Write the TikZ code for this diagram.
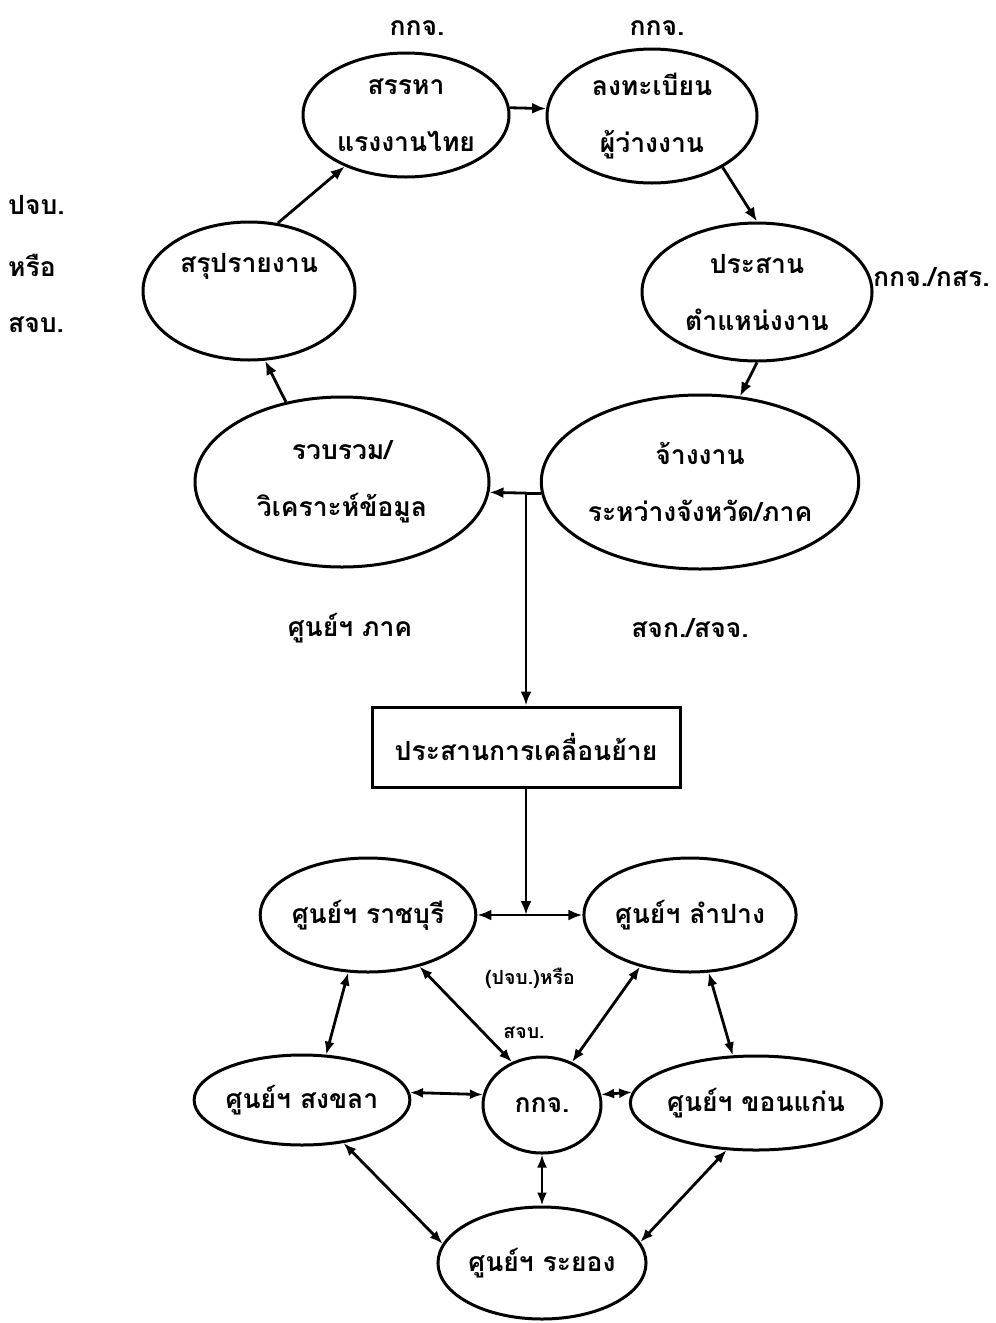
\documentclass[tikz,border=0pt]{standalone}
\usepackage{fontspec}
\newfontfamily\thai[Script=Thai]{Loma}
\usetikzlibrary{shapes.geometric,arrows.meta}
\begin{document}
\begin{tikzpicture}[x=1pt,y=-1pt,
  every node/.style={font=\thai\bfseries\fontsize{26.5}{57}\selectfont},
  ell/.style={draw, ellipse, line width=3pt, inner sep=0pt, align=center},
  boxst/.style={draw, rectangle, line width=3pt, inner sep=0pt},
  lbl/.style={inner sep=0pt},
  small/.style={inner sep=0pt, font=\thai\bfseries\fontsize{19.5}{22}\selectfont},
  con/.style={line width=2.8pt, -{Latex[length=14pt,width=11pt]}},
  dcon/.style={line width=2.8pt, {Latex[length=13pt,width=10pt]}-{Latex[length=13pt,width=10pt]}},
  plain/.style={line width=2.8pt}
]
\useasboundingbox[fill=white] (0,0) rectangle (996,1323);

% upper cycle
\node[ell, minimum width=206pt, minimum height=124pt] (A) at (406,115) {สรรหา\\แรงงานไทย};
\node[ell, minimum width=210pt, minimum height=134pt] (B) at (652,116) {ลงทะเบียน\\ผู้ว่างงาน};
\node[ell, minimum width=212pt, minimum height=138pt] (C) at (249,291) {สรุปรายงาน\\\mbox{}};
\node[ell, minimum width=230pt, minimum height=138pt] (D) at (757,292) {ประสาน\\ตำแหน่งงาน};
\node[ell, minimum width=294pt, minimum height=170pt] (E) at (342,482) {รวบรวม/\\วิเคราะห์ข้อมูล};
\node[ell, minimum width=272pt, minimum height=174pt] (F) at (700,482) {จ้างงาน\\ระหว่างจังหวัด/ภาค};
\node[boxst, minimum width=308pt, minimum height=80pt] (box) at (526,747) {ประสานการเคลื่อนย้าย};

% lower network
\node[ell, minimum width=186pt, minimum height=114pt] (G) at (368,915) {ศูนย์ฯ ราชบุรี};
\node[ell, minimum width=190pt, minimum height=114pt] (H) at (690,915) {ศูนย์ฯ ลำปาง};
\node[ell, minimum width=210pt, minimum height=90pt] (I) at (302,1100) {ศูนย์ฯ สงขลา};
\node[ell, minimum width=118pt, minimum height=96pt] (L) at (542,1105) {กกจ.};
\node[ell, minimum width=212pt, minimum height=94pt] (M) at (756,1103) {ศูนย์ฯ ขอนแก่น};
\node[ell, minimum width=190pt, minimum height=112pt] (N) at (542,1263) {ศูนย์ฯ ระยอง};

% labels
\node[lbl] (t1) at (417,28) {กกจ.};
\node[lbl] (t2) at (657,28) {กกจ.};
\node[lbl,anchor=west] (l1) at (8,205) {ปจบ.};
\node[lbl,anchor=west] (l2) at (8,265) {หรือ};
\node[lbl,anchor=west] (l3) at (8,325) {สจบ.};
\node[lbl,anchor=west] (r1) at (873,277) {กกจ./กสร.};
\node[lbl] (s1) at (350,628) {ศูนย์ฯ ภาค};
\node[lbl] (s2) at (690,628) {สจก./สจจ.};
\node[small] (m1) at (530,978) {(ปจบ.)หรือ};
\node[small] (m2) at (524,1033) {สจบ.};

% upper connectors
\draw[con] (A.4) -- (B.176);
\draw[con] (C.67) -- (A.220);
\draw[con] (B.-36) -- (D.north);
\draw[con] (D.south) -- (F.65);
\draw[con] (E.125) -- (C.-77);
\coordinate (J) at (F.184 -| box.north);
\draw[plain] (F.184) -- (J);
\draw[con] (J) -- (E.356);
\draw[con] (J) -- (box.north);

% lower connectors
\coordinate (K) at (box.south |- G.east);
\draw[con] (box.south) -- (K);
\draw[con] (K) -- (G.east);
\draw[con] (K) -- (H.west);
\draw[dcon] (G.251) -- (I.62);
\draw[dcon] (G.-45) -- (L.125);
\draw[dcon] (H.226) -- (L.55);
\draw[dcon] (H.288) -- (M.116);
\draw[dcon] (I.4) -- (L.170);
\draw[dcon] (L.10) -- (M.175);
\draw[dcon] (I.-46) -- (N.169);
\draw[dcon] (L.south) -- (N.north);
\draw[dcon] (M.238) -- (N.12);
\end{tikzpicture}
\end{document}
